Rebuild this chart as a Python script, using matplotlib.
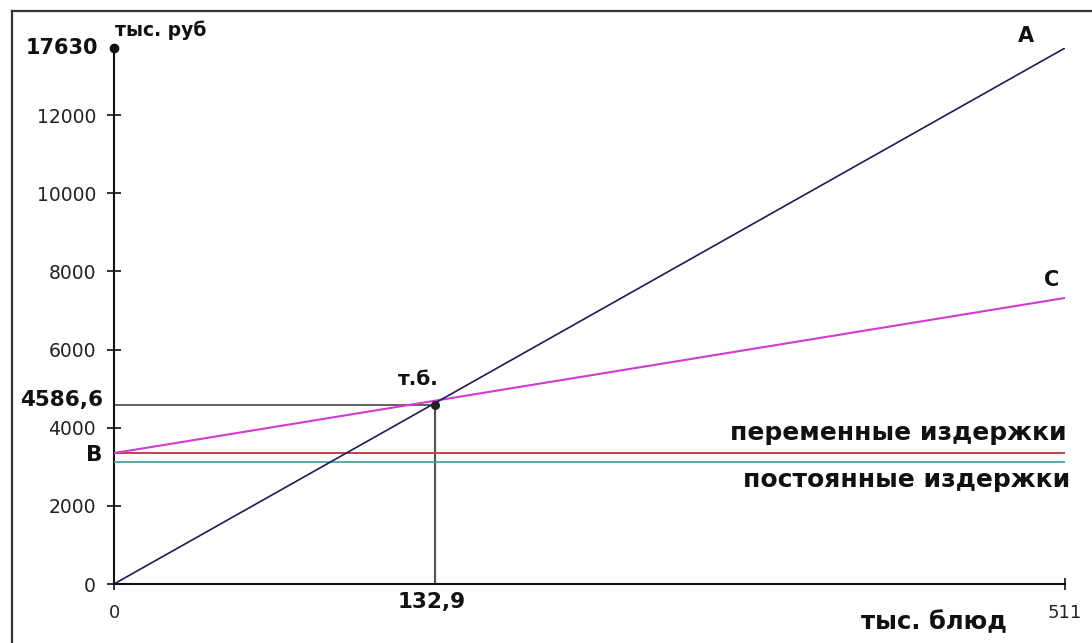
import numpy as np
import matplotlib
matplotlib.use("Agg")
import matplotlib.pyplot as plt
from matplotlib.lines import Line2D

plt.rcParams['font.family'] = ['DejaVu Sans']

# --- data (тыс. блюд / тыс. руб) ---
q_max = 511
q_be = 132.9          # точка безубыточности, тыс. блюд
r_be = 4586.6         # выручка в точке безубыточности, тыс. руб
revenue_q = [0, q_max]
revenue_v = [0, 17630]
total_cost_q = [0, q_max]
total_cost_v = [3350, 7320]
variable_level = 3350
fixed_level = 3120
y_ticks = [0, 2000, 4000, 6000, 8000, 10000, 12000]
x_ticks = [0, q_max]

# schematic (broken) axes: piecewise-linear scales
x_knots_data = [0, q_be, q_max]
x_knots_draw = [0, 172.5, q_max]
y_knots_data = [0, 12000, 17630]
y_knots_draw = [0, 12000, 13716]


def piecewise(src, dst):
    src = np.asarray(src, float)
    dst = np.asarray(dst, float)
    s_lo = (dst[1] - dst[0]) / (src[1] - src[0])
    s_hi = (dst[-1] - dst[-2]) / (src[-1] - src[-2])

    def f(v):
        v = np.asarray(v, float)
        out = np.interp(v, src, dst)
        out = np.where(v < src[0], dst[0] + (v - src[0]) * s_lo, out)
        out = np.where(v > src[-1], dst[-1] + (v - src[-1]) * s_hi, out)
        return out
    return f


W, H = 1092, 643
fig = plt.figure(figsize=(W / 100, H / 100), dpi=100)
fig.patch.set_facecolor('white')

# axes placed in pixel terms: x 114..1065, y 584 (0) .. 48 (top)
ax = fig.add_axes([114 / W, (H - 584) / H, 951 / W, 536 / H])
ax.set_xscale('function', functions=(piecewise(x_knots_data, x_knots_draw),
                                     piecewise(x_knots_draw, x_knots_data)))
ax.set_yscale('function', functions=(piecewise(y_knots_data, y_knots_draw),
                                     piecewise(y_knots_draw, y_knots_data)))
ax.set_xlim(0, q_max)
ax.set_ylim(0, revenue_v[1])
ax.patch.set_alpha(0)

for s in ('top', 'right'):
    ax.spines[s].set_visible(False)
for s in ('left', 'bottom'):
    ax.spines[s].set_linewidth(1.5)
    ax.spines[s].set_color('#111111')

ax.set_yticks(y_ticks)
ax.set_yticklabels([str(v) for v in y_ticks])
ax.set_xticks(x_ticks)
ax.set_xticklabels([str(v) for v in x_ticks])
ax.yaxis.set_minor_locator(matplotlib.ticker.NullLocator())
ax.xaxis.set_minor_locator(matplotlib.ticker.NullLocator())
ax.tick_params(axis='y', direction='inout', length=10, width=1.2,
               pad=8, labelsize=13.5, colors='#111111')
ax.tick_params(axis='x', direction='inout', length=9, width=1.2,
               pad=10, labelsize=13, colors='#111111')
ax.tick_params(axis='both', labelcolor='#222222')

# cost levels
ax.plot([0, q_max], [variable_level, variable_level], color='#c0404e', lw=1.4, zorder=3)
ax.plot([0, q_max], [fixed_level, fixed_level], color='#3aa0a0', lw=1.2, zorder=3)

# break-even guides
ax.plot([0, q_be], [r_be, r_be], color='#555555', lw=1.3, zorder=2)
ax.plot([q_be, q_be], [0, r_be], color='#555555', lw=1.6, zorder=2)

# total cost (C) and revenue (A)
ax.plot(total_cost_q, total_cost_v, color='#d23ad2', lw=1.5, zorder=4)
ax.plot(revenue_q, revenue_v, color='#1c1c5a', lw=1.2, zorder=5)

ax.plot([q_be], [r_be], 'o', color='#222222', ms=5.5, zorder=6)
ax.plot([0], [revenue_v[1]], 'o', color='#111111', ms=6, zorder=6, clip_on=False)

bold = dict(fontweight='bold', color='#111111', textcoords='offset pixels')

ax.annotate('тыс. руб', (0, revenue_v[1]), xytext=(1, 18), ha='left', va='center',
            fontsize=13.5, **bold)
ax.annotate('17630', (0, revenue_v[1]), xytext=(-16, 0), ha='right', va='center',
            fontsize=15, annotation_clip=False, **bold)
ax.annotate('4586,6', (0, r_be), xytext=(-11, 5), ha='right', va='center',
            fontsize=15.5, annotation_clip=False, **bold)
ax.annotate('В', (0, variable_level), xytext=(-12, -2), ha='right', va='center',
            fontsize=15.5, annotation_clip=False, **bold)
ax.annotate('т.б.', (q_be, r_be), xytext=(-17, 25), ha='center', va='center',
            fontsize=14.5, **bold)
ax.annotate('132,9', (q_be, 0), xytext=(-3, -18), ha='center', va='center',
            fontsize=15.5, annotation_clip=False, **bold)
ax.annotate('тыс. блюд', (q_max, 0), xytext=(-58, -38), ha='right', va='center',
            fontsize=17.5, annotation_clip=False, **bold)
ax.annotate('A', (revenue_q[1], revenue_v[1]), xytext=(-39, 12), ha='center',
            va='center', fontsize=15, annotation_clip=False, **bold)
ax.annotate('C', (total_cost_q[1], total_cost_v[1]), xytext=(-13, 18), ha='center',
            va='center', fontsize=15, annotation_clip=False, **bold)
ax.annotate('переменные издержки', (q_max, variable_level), xytext=(2, 20),
            ha='right', va='center', fontsize=18, annotation_clip=False, **bold)
ax.annotate('постоянные издержки', (q_max, fixed_level), xytext=(5, -18),
            ha='right', va='center', fontsize=18, annotation_clip=False, **bold)

# outer frame (top and left edges)
fx, fy = 12 / W, 1 - 11 / H
fig.add_artist(Line2D([fx, 1.0], [fy, fy], transform=fig.transFigure,
                      color='#333333', lw=1.6))
fig.add_artist(Line2D([fx, fx], [0, fy], transform=fig.transFigure,
                      color='#333333', lw=1.6))

fig.savefig('out.png', dpi=100)
